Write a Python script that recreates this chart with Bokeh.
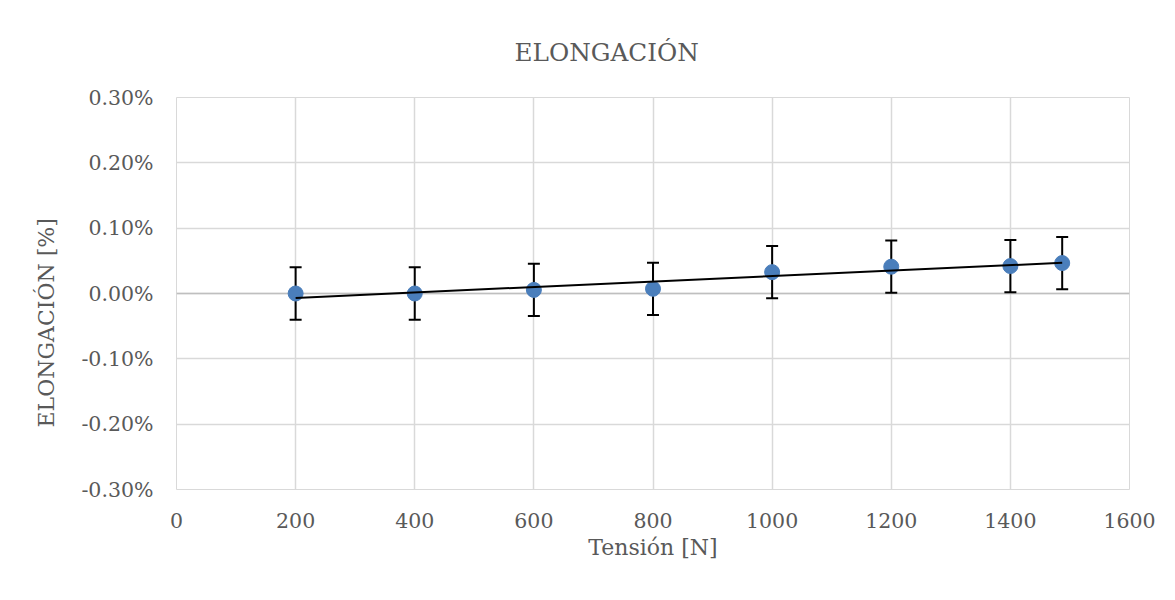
import numpy as np
from bokeh.plotting import figure
from bokeh.models import (ColumnDataSource, Whisker, TeeHead, Span, Title,
                          NumeralTickFormatter, FixedTicker, Range1d)
from bokeh.embed import file_html
from bokeh.resources import INLINE

# ---- data ----
tension = [200, 400, 600, 800, 1000, 1200, 1400, 1487]
elongacion = [0.00000, 0.00000, 0.000055, 0.000072, 0.000327, 0.000410, 0.000420, 0.000466]
error = [0.0004] * 8
x_ticks = [0, 200, 400, 600, 800, 1000, 1200, 1400, 1600]
y_ticks = [-0.003, -0.002, -0.001, 0.0, 0.001, 0.002, 0.003]
title_text = "ELONGACIÓN"
x_label = "Tensión [N]"
y_label = "ELONGACIÓN [%]"

FONT = "DejaVu Serif"
TXT = "#595959"
GRID = "#d9d9d9"

src = ColumnDataSource(dict(
    x=tension, y=elongacion,
    upper=[v + e for v, e in zip(elongacion, error)],
    lower=[v - e for v, e in zip(elongacion, error)],
))

p = figure(width=1167, height=592, output_backend="svg", toolbar_location=None,
           x_range=Range1d(0, 1600), y_range=Range1d(-0.003, 0.003),
           min_border_left=176, min_border_right=38, min_border_top=97,
           min_border_bottom=103)
p.background_fill_color = "white"
p.border_fill_color = "white"
p.outline_line_color = GRID
p.outline_line_width = 1

for ax in (p.xaxis[0], p.yaxis[0]):
    ax.axis_line_color = None
    ax.major_tick_line_color = None
    ax.minor_tick_line_color = None
    ax.major_label_text_font = FONT
    ax.major_label_text_color = TXT
    ax.major_label_text_font_size = "20.5px"

p.xaxis.ticker = FixedTicker(ticks=x_ticks)
p.yaxis.ticker = FixedTicker(ticks=y_ticks)
p.yaxis.formatter = NumeralTickFormatter(format="0.00%")
p.xaxis.major_label_standoff = 17
p.yaxis.major_label_standoff = 17

p.xaxis.axis_label = x_label
p.xaxis.axis_label_text_font = FONT
p.xaxis.axis_label_text_font_style = "normal"
p.xaxis.axis_label_text_color = TXT
p.xaxis.axis_label_text_font_size = "22px"
p.xaxis.axis_label_standoff = 4

p.xgrid.ticker = FixedTicker(ticks=x_ticks)
p.ygrid.ticker = FixedTicker(ticks=y_ticks)
p.xgrid.grid_line_color = GRID
p.ygrid.grid_line_color = GRID
p.xgrid.grid_line_width = 1.5
p.ygrid.grid_line_width = 1.5

zero = Span(location=0, dimension="width", line_color="#bfbfbf", line_width=1.5,
            level="underlay")
p.add_layout(zero)

wh = Whisker(source=src, base="x", upper="upper", lower="lower",
             line_color="black", line_width=2, level="underlay",
             upper_head=TeeHead(size=12, line_width=2, line_color="black"),
             lower_head=TeeHead(size=12, line_width=2, line_color="black"))
p.add_layout(wh)

p.scatter("x", "y", source=src, size=15, fill_color="#4a7ebb",
          line_color="#4a7ebb")

# linear trendline from the data
k, b = np.polyfit(np.array(tension, float), np.array(elongacion, float), 1)
tx = [min(tension), max(tension)]
p.line(tx, [k * t + b for t in tx], line_color="black", line_width=2)

p.add_layout(Title(text=title_text, align="left", offset=338,
                   text_font=FONT, text_font_size="24.7px",
                   text_font_style="normal", text_color=TXT,
                   standoff=61), "above")
p.add_layout(Title(text=y_label, align="left", offset=62,
                   text_font=FONT, text_font_size="22px",
                   text_font_style="normal", text_color=TXT,
                   standoff=40), "left")

open("out.html", "w").write(file_html(p, INLINE))
